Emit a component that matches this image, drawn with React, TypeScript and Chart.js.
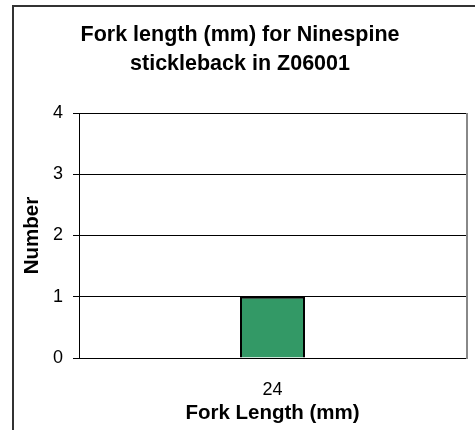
import React, { useEffect, useRef } from "react";
import { Chart, registerables } from "chart.js";

Chart.register(...registerables);

const categories = ["24"];
const counts = [1];
const yTicks = [0, 1, 2, 3, 4];

const titleLines = ["Fork length (mm) for Ninespine", "stickleback in Z06001"];
const xTitle = "Fork Length (mm)";
const yTitle = "Number";

const FONT = "Arial, 'Liberation Sans', sans-serif";

// Right edge of the plot area is drawn as a grey rule, like the spreadsheet frame.
const plotFrame = {
  id: "plotFrame",
  afterDatasetsDraw(chart: any) {
    const { ctx, chartArea } = chart;
    ctx.save();
    ctx.strokeStyle = "#888888";
    ctx.lineWidth = 2;
    ctx.beginPath();
    ctx.moveTo(chartArea.right + 1, chartArea.top);
    ctx.lineTo(chartArea.right + 1, chartArea.bottom + 1);
    ctx.stroke();
    ctx.restore();
  },
};

export default function App() {
  const ref = useRef<HTMLCanvasElement | null>(null);

  useEffect(() => {
    document.body.style.margin = "0";
    document.body.style.overflow = "hidden";
    const chart = new Chart(ref.current!, {
      type: "bar",
      data: {
        labels: categories,
        datasets: [
          {
            data: counts,
            backgroundColor: "#339966",
            borderColor: "#000000",
            borderWidth: 2,
            barPercentage: 0.168,
            categoryPercentage: 1,
          },
        ],
      },
      options: {
        animation: false,
        responsive: false,
        layout: { padding: { left: 14, right: 9, top: 0, bottom: 4 } },
        plugins: {
          legend: { display: false },
          tooltip: { enabled: false },
          title: {
            display: true,
            text: titleLines,
            color: "#000000",
            font: { family: FONT, size: 21.5, weight: "bold", lineHeight: 1.35 },
            padding: { top: 21, bottom: 34 },
          },
        },
        scales: {
          x: {
            grid: { display: false },
            border: { display: false },
            afterFit(scale: any) {
              scale.height = 68;
            },
            ticks: {
              color: "#000000",
              font: { family: FONT, size: 18 },
              padding: 13,
            },
            title: {
              display: true,
              text: xTitle,
              color: "#000000",
              font: { family: FONT, size: 20.5, weight: "bold" },
              padding: { top: 0, bottom: 0 },
            },
          },
          y: {
            min: yTicks[0],
            max: yTicks[yTicks.length - 1],
            afterBuildTicks(scale: any) {
              scale.ticks = yTicks.map((v) => ({ value: v }));
            },
            afterFit(scale: any) {
              scale.width = 65;
            },
            grid: { color: "#000000", lineWidth: 1, tickLength: 6, tickColor: "#000000" },
            border: { display: true, color: "#000000", width: 1 },
            ticks: {
              color: "#000000",
              font: { family: FONT, size: 18 },
              padding: 10,
            },
            title: {
              display: true,
              text: yTitle,
              color: "#000000",
              font: { family: FONT, size: 20.5, weight: "bold" },
              padding: { top: 6, bottom: 0 },
            },
          },
        },
      },
      plugins: [plotFrame],
    });
    return () => chart.destroy();
  }, []);

  return (
    <div style={{ position: "relative", width: 475, height: 430, overflow: "hidden", background: "#ffffff" }}>
      <div
        style={{
          position: "absolute",
          left: 12,
          top: 5,
          width: 520,
          height: 520,
          border: "2px solid #333333",
          boxSizing: "border-box",
        }}
      />
      <canvas ref={ref} width={475} height={430} style={{ position: "absolute", left: 0, top: 0 }} />
    </div>
  );
}
